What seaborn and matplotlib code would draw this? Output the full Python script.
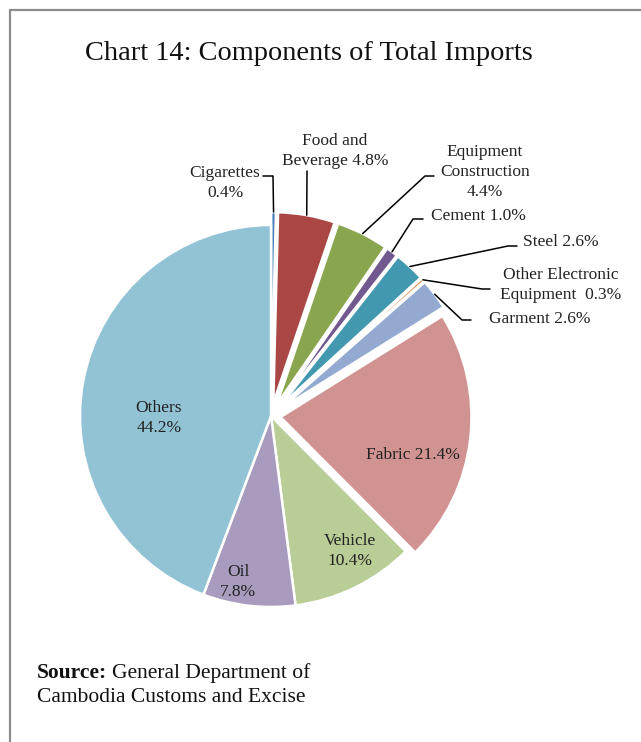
import numpy as np
import seaborn as sns
from matplotlib import pyplot as plt
from matplotlib.lines import Line2D

sns.set_theme(style='white')
plt.rcParams['font.family'] = ['Liberation Serif', 'DejaVu Serif']

# data
categories = ['Cigarettes', 'Food and\nBeverage', 'Equipment\nConstruction', 'Cement', 'Steel',
              'Other Electronic\nEquipment ', 'Garment', 'Fabric', 'Vehicle', 'Oil', 'Others']
shares = [0.4, 4.8, 4.4, 1.0, 2.6, 0.3, 2.6, 21.4, 10.4, 7.8, 44.2]
label_text = ['Cigarettes\n0.4%', 'Food and\nBeverage 4.8%', 'Equipment\nConstruction\n4.4%',
              'Cement 1.0%', 'Steel 2.6%', 'Other Electronic\nEquipment  0.3%', 'Garment 2.6%',
              'Fabric 21.4%', 'Vehicle\n10.4%', 'Oil\n7.8%', 'Others\n44.2%']

colors = ['#4a7ebb', '#aa4643', '#89a54e', '#71588f', '#4198af', '#db843d',
          '#93a9cf', '#d19392', '#b9cd96', '#a99bbd', '#91c3d5']
explode = [0.068, 0.068, 0.068, 0.068, 0.068, 0.068, 0.068, 0.05, 0, 0, 0]

# layout in pixels (figure 641x742)
W, H = 641, 742
cx, cy, R = 271, 416, 191

# label centers in pixels; outside labels also get a leader elbow + end
label_pos = [(225, 183), (335, 151), (485, 172), (478, 216), (561, 242), (561, 285),
             (540, 319), (413, 455), (350, 551), (238, 582), (159, 418)]
leader = {0: [(273, 176), (263, 176)],
          1: [(307, 171)],
          2: [(425, 176), (434, 176)],
          3: [(413, 219), (423, 219)],
          4: [(508, 246), (517, 246)],
          5: [(482, 289), (490, 289)],
          6: [(462, 320), (471, 320)]}


def d(p):
    return ((p[0] - cx) / R, (cy - p[1]) / R)


fig = plt.figure(figsize=(W / 100, H / 100), dpi=100)
ax = fig.add_axes([0, 0, 1, 1])
wedges, _ = ax.pie(shares, colors=colors, explode=explode, startangle=90, counterclock=False,
                   radius=1, wedgeprops=dict(edgecolor='white', linewidth=1.8))
ax.set_xlim(-cx / R, (W - cx) / R)
ax.set_ylim((cy - H) / R, cy / R)
ax.set_aspect('auto')
ax.axis('off')

for i, w in enumerate(wedges):
    tx, ty = d(label_pos[i])
    ax.text(tx, ty, label_text[i], ha='center', va='center', fontsize=12.5,
            color='#222222', linespacing=1.35)
    if i in leader:
        mid = np.deg2rad((w.theta1 + w.theta2) / 2)
        r = 1 + explode[i]
        pts = [(r * np.cos(mid), r * np.sin(mid))] + [d(p) for p in leader[i]]
        xs, ys = zip(*pts)
        ax.plot(xs, ys, color='black', lw=1.1)

fig.text(309 / W, 1 - 53 / H, 'Chart 14: Components of Total Imports', ha='center',
         va='center', fontsize=20.4, color='#111111')

# source note: bold prefix, then the rest right after it
src = fig.text(37 / W, 1 - 673 / H, 'Source:', ha='left', va='center', fontsize=15.5,
               fontweight='bold', color='#111111')
fig.canvas.draw()
bb = src.get_window_extent()
fig.text((bb.x1 + 5) / W, 1 - 673 / H, 'General Department of', ha='left', va='center',
         fontsize=15.5, color='#111111')
fig.text(37 / W, 1 - 697 / H, 'Cambodia Customs and Excise', ha='left', va='center',
         fontsize=15.5, color='#111111')

# frame
fig.add_artist(Line2D([10 / W, 1], [1 - 9.5 / H, 1 - 9.5 / H], color='#8c8c8c', lw=1.6))
fig.add_artist(Line2D([10 / W, 10 / W], [0, 1 - 9.5 / H], color='#8c8c8c', lw=1.6))

fig.savefig('out.png', dpi=100)
